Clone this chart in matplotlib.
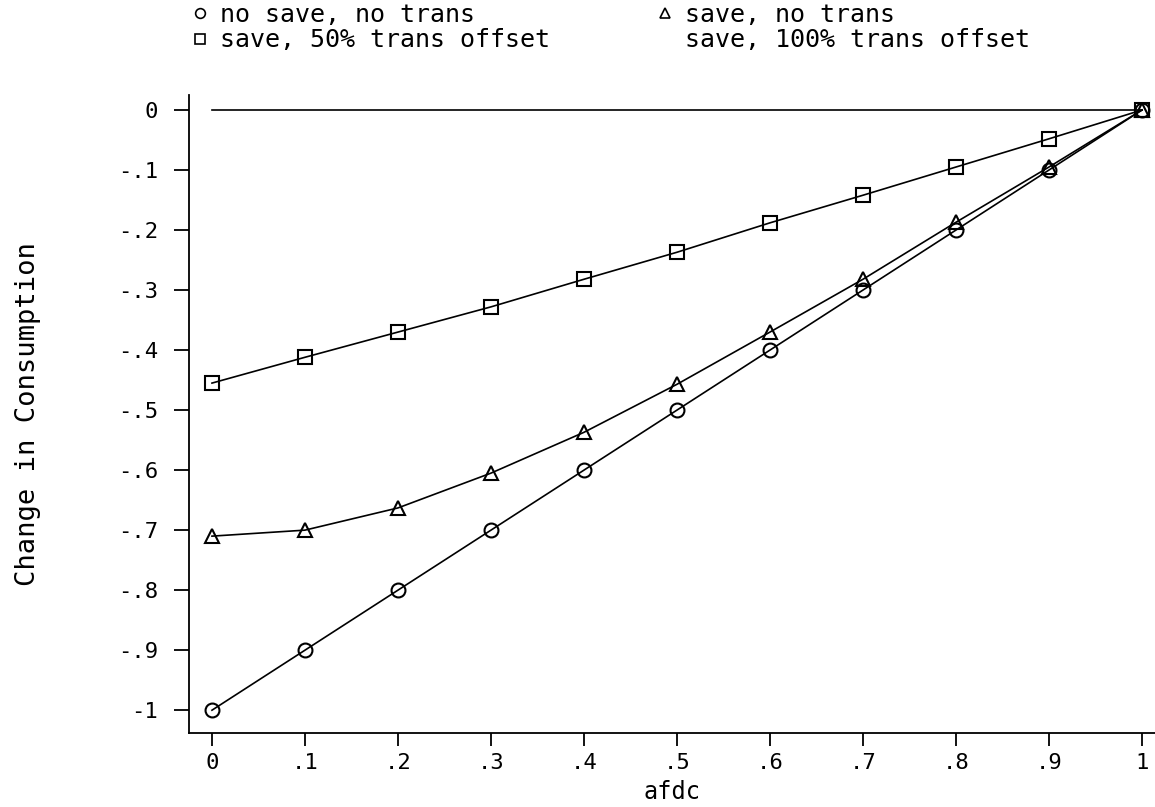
import matplotlib
matplotlib.use('Agg')
import matplotlib.pyplot as plt
from matplotlib.lines import Line2D

afdc = [0, .1, .2, .3, .4, .5, .6, .7, .8, .9, 1]
no_save = [-1, -.9, -.8, -.7, -.6, -.5, -.4, -.3, -.2, -.1, 0]
save_no_trans = [-.71, -.70, -.663, -.605, -.537, -.457, -.37, -.282, -.187, -.095, 0]
save_50 = [-.455, -.412, -.37, -.328, -.282, -.237, -.188, -.142, -.095, -.048, 0]
save_100 = [0, 0, 0, 0, 0, 0, 0, 0, 0, 0, 0]

xticks = [0, .1, .2, .3, .4, .5, .6, .7, .8, .9, 1]
xlabels = ['0', '.1', '.2', '.3', '.4', '.5', '.6', '.7', '.8', '.9', '1']
yticks = [0, -.1, -.2, -.3, -.4, -.5, -.6, -.7, -.8, -.9, -1]
ylabels = ['0', '-.1', '-.2', '-.3', '-.4', '-.5', '-.6', '-.7', '-.8', '-.9', '-1']

plt.rcParams['font.family'] = 'DejaVu Sans Mono'

fig = plt.figure(figsize=(11.55, 8.07), dpi=100)
ax = fig.add_axes([189 / 1155, 74 / 807, 966 / 1155, (733 - 95) / 807])

mk = dict(color='black', lw=1.2, markerfacecolor='none', markeredgecolor='black',
          markersize=10, markeredgewidth=1.5)
ax.plot(afdc, save_100, color='black', lw=1.2)
ax.plot(afdc, save_50, marker='s', **mk)
ax.plot(afdc, save_no_trans, marker='^', **mk)
ax.plot(afdc, no_save, marker='o', **mk)

ax.set_xlim(-0.0247, 1.014)
ax.set_ylim(-1.038, 0.025)
ax.spines['top'].set_visible(False)
ax.spines['right'].set_visible(False)
ax.spines['left'].set_linewidth(1.3)
ax.spines['bottom'].set_linewidth(1.3)

ax.set_xticks(xticks)
ax.set_xticklabels(xlabels)
ax.set_yticks(yticks)
ax.set_yticklabels(ylabels)
ax.tick_params(axis='y', length=11, width=1.3, pad=11.5, labelsize=16)
ax.tick_params(axis='x', length=9.5, width=1.3, pad=5, labelsize=16)

ax.set_xlabel('afdc', fontsize=17, labelpad=5)
ax.set_ylabel('Change in Consumption', fontsize=19.5, labelpad=55)

lk = dict(color='black', linestyle='none', markerfacecolor='none',
          markeredgecolor='black', markersize=7, markeredgewidth=1.2)
h1 = [Line2D([], [], marker='o', **lk), Line2D([], [], marker='s', **lk)]
h2 = [Line2D([], [], marker='^', **lk), Line2D([], [], linestyle='none')]

leg_kw = dict(loc='upper left', frameon=False, fontsize=18, borderpad=0,
              borderaxespad=0, handlelength=0.8, handletextpad=0.4,
              labelspacing=0.05)
leg1 = fig.legend(h1, ['no save, no trans', 'save, 50% trans offset'],
                  bbox_to_anchor=(190 / 1155, 1 - 3 / 807), **leg_kw)
leg2 = fig.legend(h2, ['save, no trans', 'save, 100% trans offset'],
                  bbox_to_anchor=(655 / 1155, 1 - 3 / 807), **leg_kw)

fig.savefig('out.png', dpi=100)
